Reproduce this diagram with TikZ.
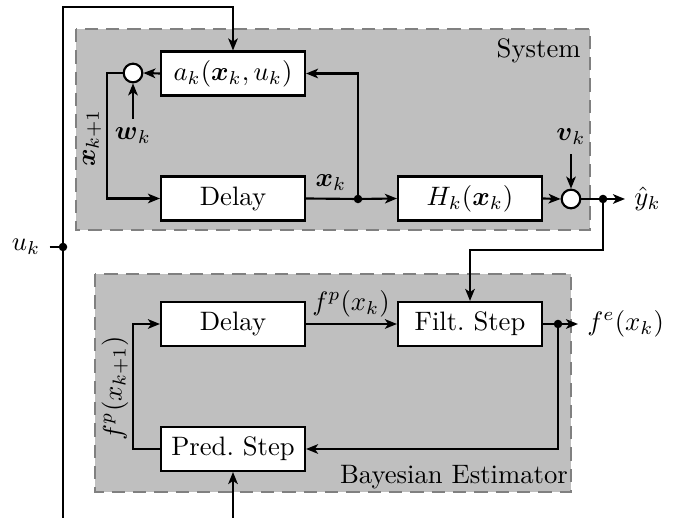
\documentclass[tikz,border=0pt]{standalone}
\usepackage{amsmath}
\usetikzlibrary{arrows.meta}
\begin{document}
\begin{tikzpicture}[x=0.375pt,y=-0.375pt,
 blk/.style={draw,thick,fill=white,minimum width=54pt,minimum height=16.5pt,inner sep=0pt},
 sumc/.style={draw,thick,fill=white,circle,minimum size=7pt,inner sep=0pt},
 dotn/.style={circle,fill,inner sep=0pt,minimum size=3.2pt},
 conn/.style={thick,-{Stealth[length=4.5pt,width=3.6pt,inset=1.2pt]}},
 wire/.style={thick},
 area/.style={draw=gray,dash pattern=on 5pt off 3pt,fill=black!25,semithick}]
\useasboundingbox (0,0) rectangle (678,518);
% areas
\path[area] (76,29) rectangle (590,230);
\path[area] (95,274) rectangle (571,492);
\node[anchor=north east] (sysl) at (590,29) {System};
\node[anchor=south east,inner sep=1pt] (bayl) at (571,492) {Bayesian Estimator};
% system nodes
\node[blk] (a) at (233,73.5) {$a_k(\boldsymbol{x}_k,u_k)$};
\node[blk] (d1) at (233,198.5) {Delay};
\node[blk] (h) at (470,198.5) {$H_k(\boldsymbol{x}_k)$};
\node[sumc] (s1) at (133,73) {};
\node[sumc] (s2) at (571,199) {};
\node[dotn] (j1) at (358,199) {};
\node[dotn] (j2) at (603,199) {};
\node[anchor=west] (yh) at (625,199) {$\hat{y}_k$};
\node (w) at (133,136) {$\boldsymbol{w}_k$};
\node (v) at (571,137) {$\boldsymbol{v}_k$};
\node[rotate=90] (xk1) at (92,138) {$\boldsymbol{x}_{k+1}$};
\node (xk) at (331,183) {$\boldsymbol{x}_k$};
% input
\node (uk) at (26,247) {$u_k$};
\node[dotn] (ju) at (63,247) {};
\coordinate (tl) at (63,7);
\coordinate (tr) at (233,7);
\coordinate (bl) at (63,518);
\coordinate (pb) at (233,518);
% estimator nodes
\node[blk] (d2) at (233,324) {Delay};
\node[blk] (f) at (470,324) {Filt.\ Step};
\node[blk] (p) at (233,449) {Pred.\ Step};
\node[dotn] (j3) at (558,324) {};
\node[anchor=west] (fe) at (578,324) {$f^e(x_k)$};
\node (fp) at (351,304) {$f^p(x_k)$};
\node[rotate=90] (fp1) at (115,388) {$f^p(x_{k+1})$};
\coordinate (c1) at (107,73);
\coordinate (c2) at (603,250);
\coordinate (c3) at (133,449);
% system connectors
\draw[wire] (uk.east) -- (ju.center);
\draw[conn] (ju.center) -- (tl) -- (tr) -- (a.north);
\draw[wire] (ju.center) -- (bl);
\draw[conn] (a.west) -- (s1.east);
\draw[conn] (s1.west) -- (c1) |- (d1.west);
\draw[conn] (w.north) -- (s1.south);
\draw[wire] (d1.east) -- (j1.center);
\draw[conn] (j1.center) -- (h.west);
\draw[conn] (j1.center) |- (a.east);
\draw[conn] (h.east) -- (s2.west);
\draw[conn] (v.south) -- (s2.north);
\draw[wire] (s2.east) -- (j2.center);
\draw[conn] (j2.center) -- (yh.west);
\draw[conn] (j2.center) -- (c2) -| (f.north);
% estimator connectors
\draw[conn] (d2.east) -- (f.west);
\draw[wire] (f.east) -- (j3.center);
\draw[conn] (j3.center) -- (fe.west);
\draw[conn] (j3.center) |- (p.east);
\draw[conn] (p.west) -- (c3) |- (d2.west);
\draw[conn] (pb) -- (p.south);
\end{tikzpicture}
\end{document}
